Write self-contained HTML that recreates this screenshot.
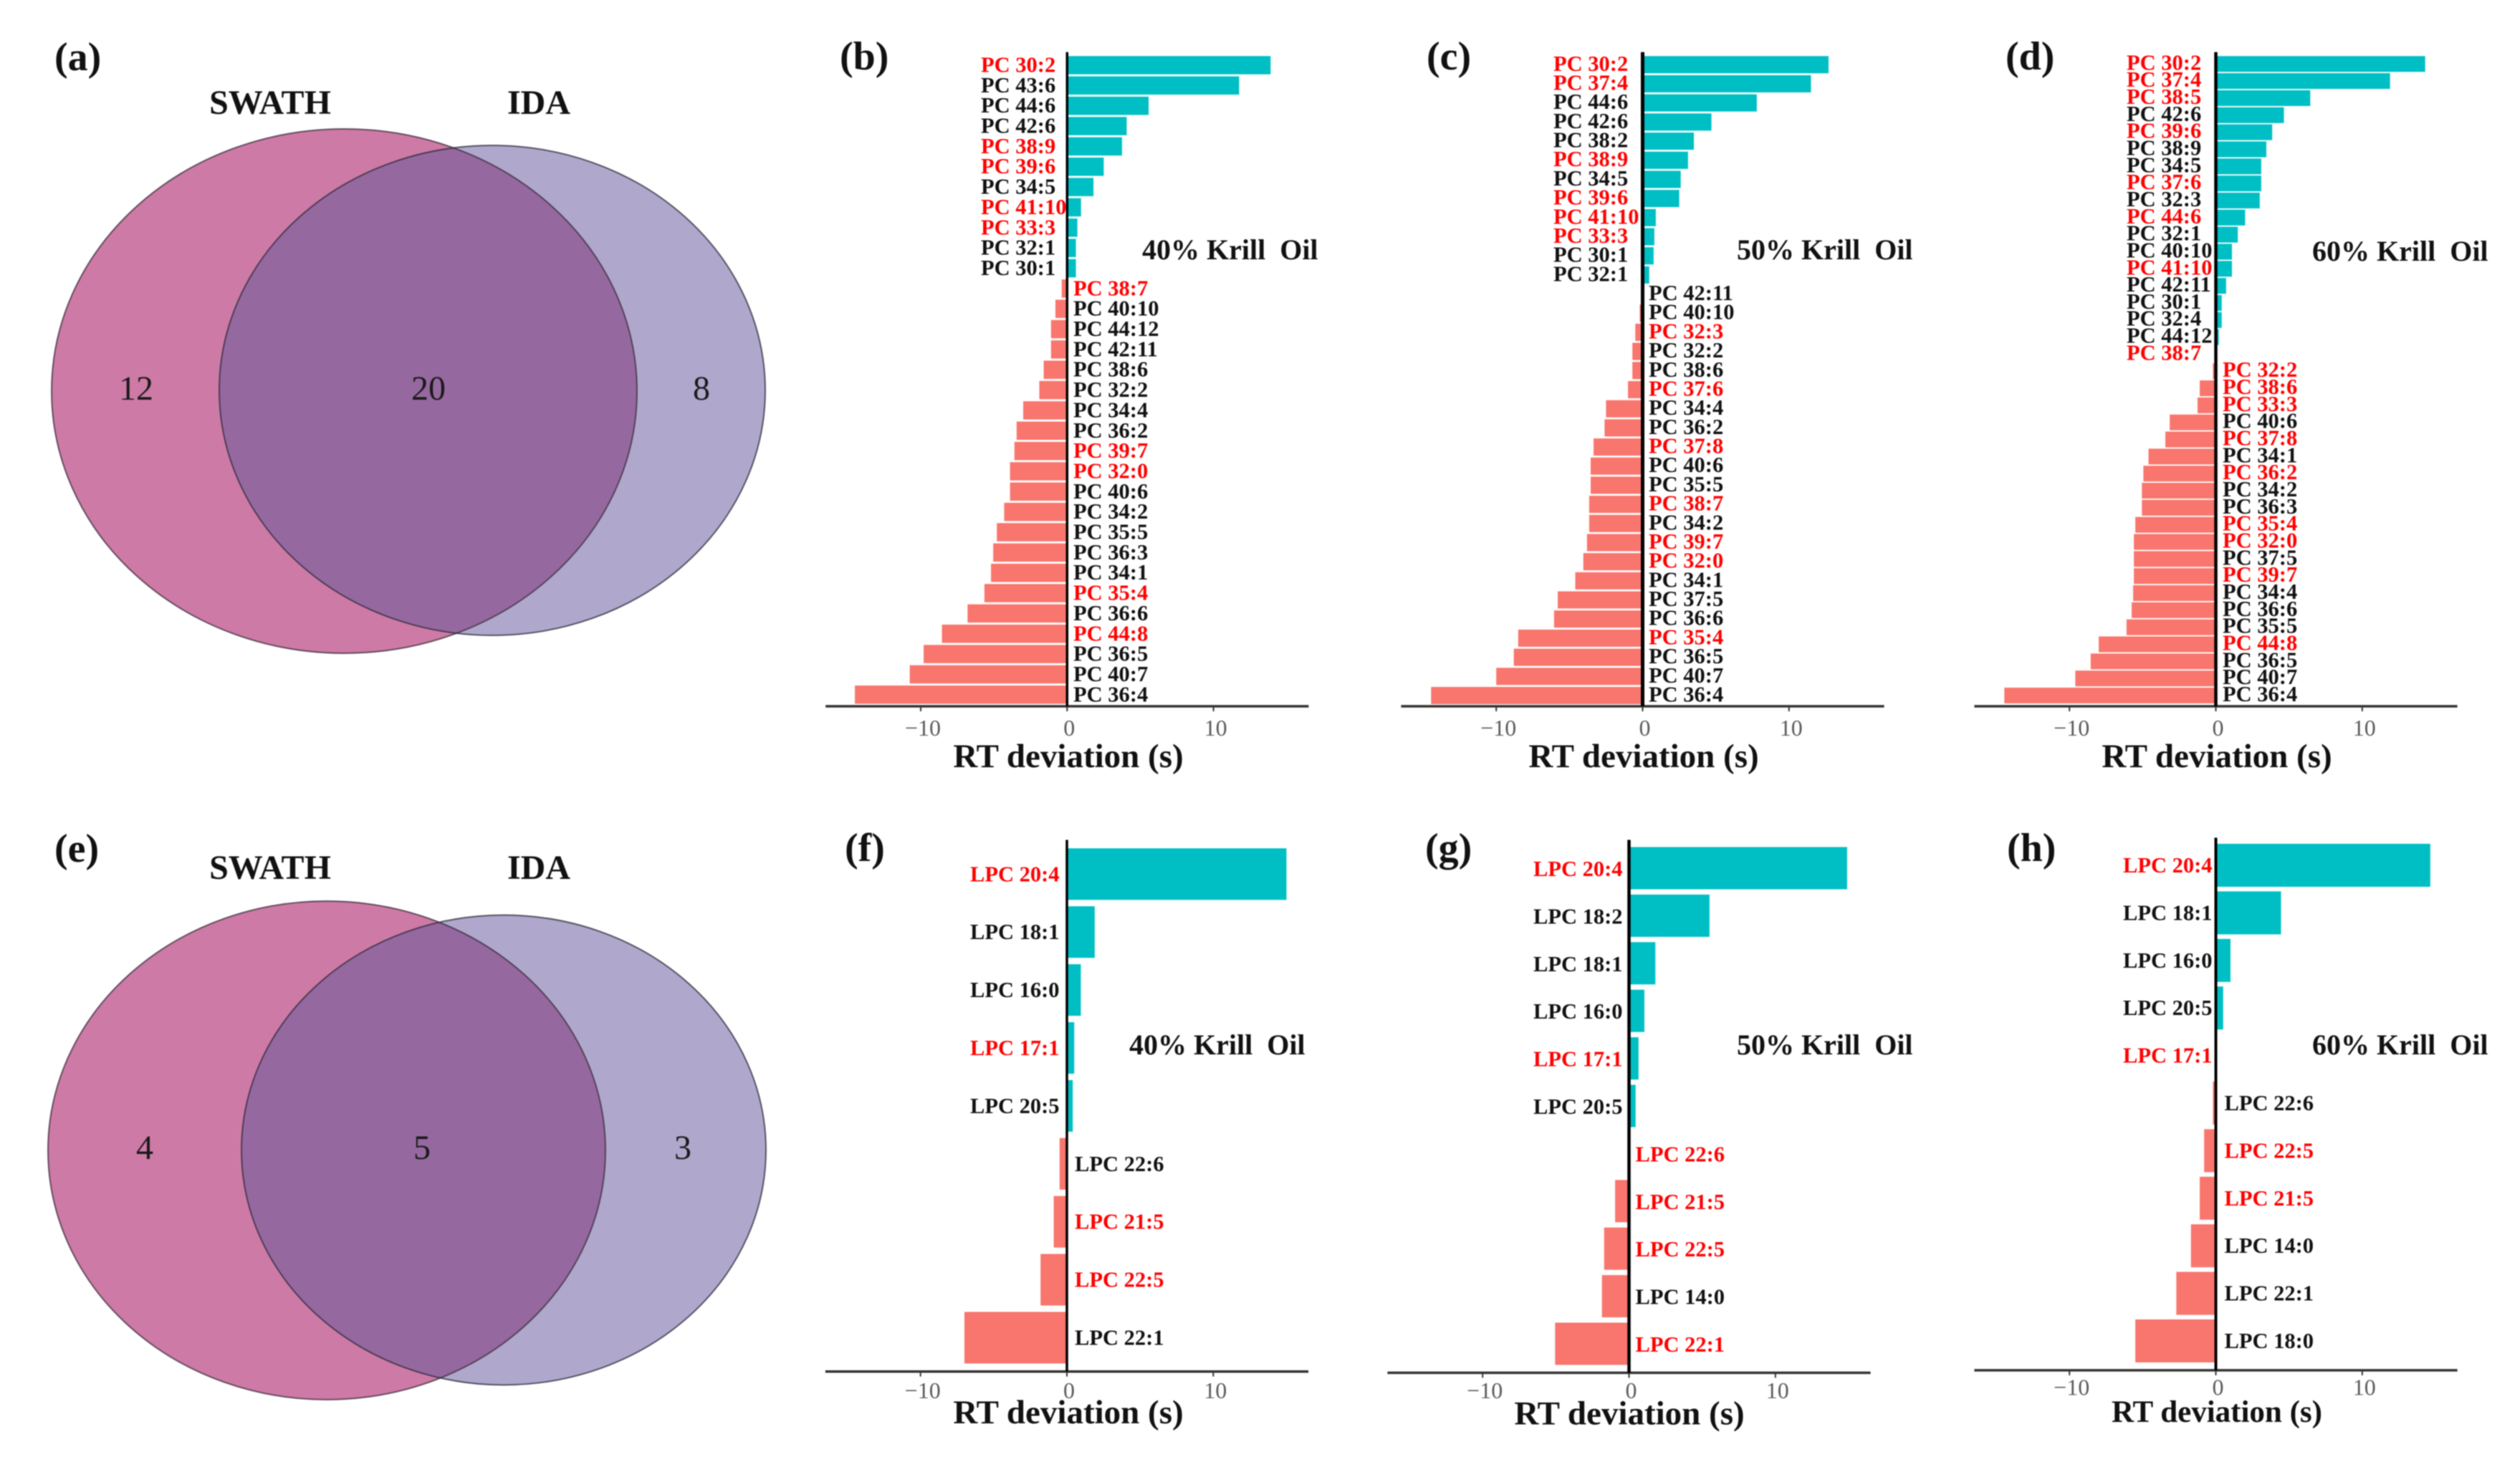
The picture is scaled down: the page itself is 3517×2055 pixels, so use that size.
<!DOCTYPE html>
<html lang="en">
<head>
<meta charset="utf-8">
<title>SWATH vs IDA Venn diagrams and RT deviation charts</title>
<style>
  html, body { margin: 0; padding: 0; background: #fff; }
  svg { display: block; filter: blur(0.9px); font-family: "Liberation Serif", serif; }
  text { white-space: pre; }
  .venn-num { font-size: 48px; fill: #1a1a1a; text-anchor: middle; }
  .venn-title { font-size: 48px; font-weight: bold; fill: #111; text-anchor: middle; }
  .letter { font-size: 56px; font-weight: bold; fill: #111; }
</style>
</head>
<body>
<svg id="figure" xmlns="http://www.w3.org/2000/svg" width="3517" height="2055" viewBox="0 0 3517 2055">
  <defs>
    <clipPath id="clip-a"><ellipse cx="480.5" cy="546" rx="408.5" ry="366"/></clipPath>
    <clipPath id="clip-e"><ellipse cx="456" cy="1606" rx="389" ry="348"/></clipPath>
  </defs>
  <rect width="3517" height="2055" fill="#fff"/>

  <g>
    <text class="letter" x="76" y="98">(a)</text>
    <text class="venn-title" x="377" y="159">SWATH</text>
    <text class="venn-title" x="752" y="159">IDA</text>
    <ellipse cx="480.5" cy="546" rx="408.5" ry="366" fill="#CE7AA6"/>
    <ellipse cx="687" cy="545" rx="381" ry="342" fill="#AFA8CC"/>
    <ellipse cx="687" cy="545" rx="381" ry="342" fill="#9668A0" clip-path="url(#clip-a)"/>
    <ellipse cx="480.5" cy="546" rx="408.5" ry="366" fill="none" stroke="#3a2a3a" stroke-opacity="0.75" stroke-width="2"/>
    <ellipse cx="687" cy="545" rx="381" ry="342" fill="none" stroke="#2a2a3a" stroke-opacity="0.75" stroke-width="2"/>
    <text class="venn-num" x="190" y="558">12</text>
    <text class="venn-num" x="598" y="558">20</text>
    <text class="venn-num" x="979" y="558">8</text>
  </g>

  <g>
    <text class="letter" x="76" y="1203">(e)</text>
    <text class="venn-title" x="377" y="1227">SWATH</text>
    <text class="venn-title" x="752" y="1227">IDA</text>
    <ellipse cx="456" cy="1606" rx="389" ry="348" fill="#CE7AA6"/>
    <ellipse cx="703" cy="1605.5" rx="366" ry="328" fill="#AFA8CC"/>
    <ellipse cx="703" cy="1605.5" rx="366" ry="328" fill="#9668A0" clip-path="url(#clip-e)"/>
    <ellipse cx="456" cy="1606" rx="389" ry="348" fill="none" stroke="#3a2a3a" stroke-opacity="0.75" stroke-width="2"/>
    <ellipse cx="703" cy="1605.5" rx="366" ry="328" fill="none" stroke="#2a2a3a" stroke-opacity="0.75" stroke-width="2"/>
    <text class="venn-num" x="202" y="1618">4</text>
    <text class="venn-num" x="589" y="1618">5</text>
    <text class="venn-num" x="953" y="1618">3</text>
  </g>
</svg>

<script>
// Shared axis data
const tickValues = [-10, 0, 10];
const tickLabels = ['\u221210', '0', '10'];
const axisMin = -16.5;
const axisMax = 16.5;

// Panel (b) 40% Krill Oil, PC
const labelsB = ['PC 30:2','PC 43:6','PC 44:6','PC 42:6','PC 38:9','PC 39:6','PC 34:5','PC 41:10','PC 33:3','PC 32:1','PC 30:1','PC 38:7','PC 40:10','PC 44:12','PC 42:11','PC 38:6','PC 32:2','PC 34:4','PC 36:2','PC 39:7','PC 32:0','PC 40:6','PC 34:2','PC 35:5','PC 36:3','PC 34:1','PC 35:4','PC 36:6','PC 44:8','PC 36:5','PC 40:7','PC 36:4'];
const valuesB = [13.9,11.75,5.57,4.07,3.75,2.5,1.8,0.95,0.7,0.6,0.6,-0.37,-0.8,-1.1,-1.1,-1.6,-1.9,-3,-3.45,-3.6,-3.9,-3.9,-4.3,-4.8,-5.05,-5.2,-5.65,-6.8,-8.55,-9.8,-10.75,-14.5];
const redB = ['PC 30:2','PC 38:9','PC 39:6','PC 41:10','PC 33:3','PC 38:7','PC 39:7','PC 32:0','PC 35:4','PC 44:8'];

// Panel (c) 50% Krill Oil, PC
const labelsC = ['PC 30:2','PC 37:4','PC 44:6','PC 42:6','PC 38:2','PC 38:9','PC 34:5','PC 39:6','PC 41:10','PC 33:3','PC 30:1','PC 32:1','PC 42:11','PC 40:10','PC 32:3','PC 32:2','PC 38:6','PC 37:6','PC 34:4','PC 36:2','PC 37:8','PC 40:6','PC 35:5','PC 38:7','PC 34:2','PC 39:7','PC 32:0','PC 34:1','PC 37:5','PC 36:6','PC 35:4','PC 36:5','PC 40:7','PC 36:4'];
const valuesC = [12.7,11.5,7.8,4.7,3.5,3.1,2.6,2.5,0.9,0.8,0.75,0.45,-0.02,-0.2,-0.5,-0.7,-0.7,-1,-2.5,-2.6,-3.35,-3.55,-3.55,-3.65,-3.65,-3.8,-4.05,-4.6,-5.8,-6.05,-8.5,-8.8,-10,-14.45];
const redC = ['PC 30:2','PC 37:4','PC 38:9','PC 39:6','PC 41:10','PC 33:3','PC 32:3','PC 37:6','PC 37:8','PC 38:7','PC 39:7','PC 32:0','PC 35:4'];

// Panel (d) 60% Krill Oil, PC
const labelsD = ['PC 30:2','PC 37:4','PC 38:5','PC 42:6','PC 39:6','PC 38:9','PC 34:5','PC 37:6','PC 32:3','PC 44:6','PC 32:1','PC 40:10','PC 41:10','PC 42:11','PC 30:1','PC 32:4','PC 44:12','PC 38:7','PC 32:2','PC 38:6','PC 33:3','PC 40:6','PC 37:8','PC 34:1','PC 36:2','PC 34:2','PC 36:3','PC 35:4','PC 32:0','PC 37:5','PC 39:7','PC 34:4','PC 36:6','PC 35:5','PC 44:8','PC 36:5','PC 40:7','PC 36:4'];
const valuesD = [14.3,11.9,6.45,4.65,3.85,3.45,3.1,3.1,3,2,1.5,1.1,1.1,0.7,0.4,0.4,0.2,0.02,-0.2,-1.1,-1.25,-3.15,-3.45,-4.6,-4.95,-5.05,-5.05,-5.5,-5.6,-5.6,-5.6,-5.65,-5.75,-6.1,-8,-8.55,-9.6,-14.45];
const redD = ['PC 30:2','PC 37:4','PC 38:5','PC 39:6','PC 37:6','PC 44:6','PC 41:10','PC 38:7','PC 32:2','PC 38:6','PC 33:3','PC 37:8','PC 36:2','PC 35:4','PC 32:0','PC 39:7','PC 44:8'];

// Panel (f) 40% Krill Oil, LPC
const labelsF = ['LPC 20:4','LPC 18:1','LPC 16:0','LPC 17:1','LPC 20:5','LPC 22:6','LPC 21:5','LPC 22:5','LPC 22:1'];
const valuesF = [15,1.9,0.95,0.5,0.4,-0.5,-0.9,-1.8,-7];
const redF = ['LPC 20:4','LPC 17:1','LPC 21:5','LPC 22:5'];

// Panel (g) 50% Krill Oil, LPC
const labelsG = ['LPC 20:4','LPC 18:2','LPC 18:1','LPC 16:0','LPC 17:1','LPC 20:5','LPC 22:6','LPC 21:5','LPC 22:5','LPC 14:0','LPC 22:1'];
const valuesG = [14.9,5.5,1.8,1.05,0.65,0.45,-0.02,-0.95,-1.7,-1.85,-5.05];
const redG = ['LPC 20:4','LPC 17:1','LPC 22:6','LPC 21:5','LPC 22:5','LPC 22:1'];

// Panel (h) 60% Krill Oil, LPC
const labelsH = ['LPC 20:4','LPC 18:1','LPC 16:0','LPC 20:5','LPC 17:1','LPC 22:6','LPC 22:5','LPC 21:5','LPC 14:0','LPC 22:1','LPC 18:0'];
const valuesH = [14.65,4.45,1,0.5,0.02,-0.2,-0.8,-1.1,-1.7,-2.7,-5.5];
const redH = ['LPC 20:4','LPC 17:1','LPC 22:5','LPC 21:5'];

const SVG_NS = 'http://www.w3.org/2000/svg';
const figure = document.getElementById('figure');
const UNIT = 20.43;

function make(tag, attrs, parent) {
  const node = document.createElementNS(SVG_NS, tag);
  Object.keys(attrs).forEach(function (k) { node.setAttribute(k, attrs[k]); });
  parent.appendChild(node);
  return node;
}

function drawPanel(id, title, labels, values, red, g) {
  const root = make('g', {}, figure);
  
  

  const xScale = function (v) { return g.zero + v * UNIT; };
  const yScale = function (i) { return g.first + i * (g.last - g.first) / (labels.length - 1); };

  const letter = make('text', { x: g.letterX, y: g.letterY, class: 'letter' }, root);
  letter.textContent = '(' + id + ')';
  
  

  values.forEach(function (v, i) {
    const x0 = xScale(Math.min(v, 0));
    const x1 = xScale(Math.max(v, 0));
    const bar = make('rect', {
      x: x0, y: yScale(i) - g.barH / 2, width: x1 - x0, height: g.barH,
      fill: v >= 0 ? '#00BFC4' : '#F8766D'
    }, root);
    
    

    const label = make('text', {
      x: v >= 0 ? g.leftX : g.rightX, y: yScale(i) + 10 + g.labelDy,
      'font-size': 30.5, 'font-weight': 'bold',
      fill: red.indexOf(labels[i]) >= 0 ? '#FF0000' : '#111'
    }, root);
    label.textContent = labels[i];
    
    
  });

  const xAxis = make('line', {
    x1: xScale(axisMin), x2: xScale(axisMax), y1: g.axisY, y2: g.axisY,
    stroke: '#333', 'stroke-width': 3.5
  }, root);
  
  

  const zeroLine = make('line', {
    x1: xScale(0), x2: xScale(0), y1: g.top, y2: g.axisY,
    stroke: '#000', 'stroke-width': g.zeroW
  }, root);
  
  

  tickValues.forEach(function (t, i) {
    const tick = make('line', {
      x1: xScale(t), x2: xScale(t), y1: g.axisY, y2: g.axisY + 7,
      stroke: '#333', 'stroke-width': 2
    }, root);
    
    

    const tl = make('text', {
      x: xScale(t) + 3, y: g.tickY, 'font-size': 32, fill: '#5a5a5a', 'text-anchor': 'middle'
    }, root);
    tl.textContent = tickLabels[i];
    
    
  });

  const axisTitle = make('text', {
    x: g.rtX, y: g.rtY, 'font-size': g.rtSize, 'font-weight': 'bold', fill: '#111', 'text-anchor': 'middle'
  }, root);
  axisTitle.textContent = 'RT deviation (s)';
  
  

  const krill = make('text', {
    x: g.krillX, y: g.krillY, 'font-size': 40, 'font-weight': 'bold', fill: '#111'
  }, root);
  krill.textContent = title;
  
  
}

drawPanel('b', '40% Krill  Oil', labelsB, valuesB, redB, { zero: 1489.3, axisY: 986, top: 72.7, first: 91, last: 969.8, barH: 25.5, leftX: 1369, rightX: 1498, krillX: 1594, krillY: 362, tickY: 1027, rtX: 1491, rtY: 1071, rtSize: 47, letterX: 1172, letterY: 97, zeroW: 3.5, labelDy: -0.5 });
drawPanel('c', '50% Krill  Oil', labelsC, valuesC, redC, { zero: 2292.5, axisY: 986, top: 72.7, first: 90.3, last: 971, barH: 24, leftX: 2168, rightX: 2301, krillX: 2424, krillY: 362, tickY: 1027, rtX: 2294, rtY: 1071, rtSize: 47, letterX: 1991, letterY: 97, zeroW: 5, labelDy: -1.5 });
drawPanel('d', '60% Krill  Oil', labelsD, valuesD, redD, { zero: 3092.5, axisY: 986, top: 72.7, first: 89.3, last: 971, barH: 22, leftX: 2968, rightX: 3102, krillX: 3227, krillY: 364, tickY: 1027, rtX: 3094, rtY: 1071, rtSize: 47, letterX: 2799, letterY: 97, zeroW: 4.5, labelDy: -2 });
drawPanel('f', '40% Krill  Oil', labelsF, valuesF, redF, { zero: 1489, axisY: 1914.7, top: 1172.5, first: 1220.3, last: 1867.5, barH: 72, leftX: 1354, rightX: 1500, krillX: 1576, krillY: 1472, tickY: 1952, rtX: 1491, rtY: 1987, rtSize: 47, letterX: 1179, letterY: 1202, zeroW: 3.5, labelDy: 0 });
drawPanel('g', '50% Krill  Oil', labelsG, valuesG, redG, { zero: 2273.5, axisY: 1916.5, top: 1172.5, first: 1212, last: 1876, barH: 59, leftX: 2140, rightX: 2282.5, krillX: 2424, krillY: 1472, tickY: 1952, rtX: 2274, rtY: 1988.5, rtSize: 47, letterX: 1989, letterY: 1202, zeroW: 4.5, labelDy: 1 });
drawPanel('h', '60% Krill  Oil', labelsH, valuesH, redH, { zero: 3092.5, axisY: 1913, top: 1169.5, first: 1208, last: 1872, barH: 60, leftX: 2963, rightX: 3104.5, krillX: 3227, krillY: 1472, tickY: 1947.5, rtX: 3094, rtY: 1985, rtSize: 43, letterX: 2801, letterY: 1202, zeroW: 4, labelDy: 0 });
</script>
</body>
</html>
